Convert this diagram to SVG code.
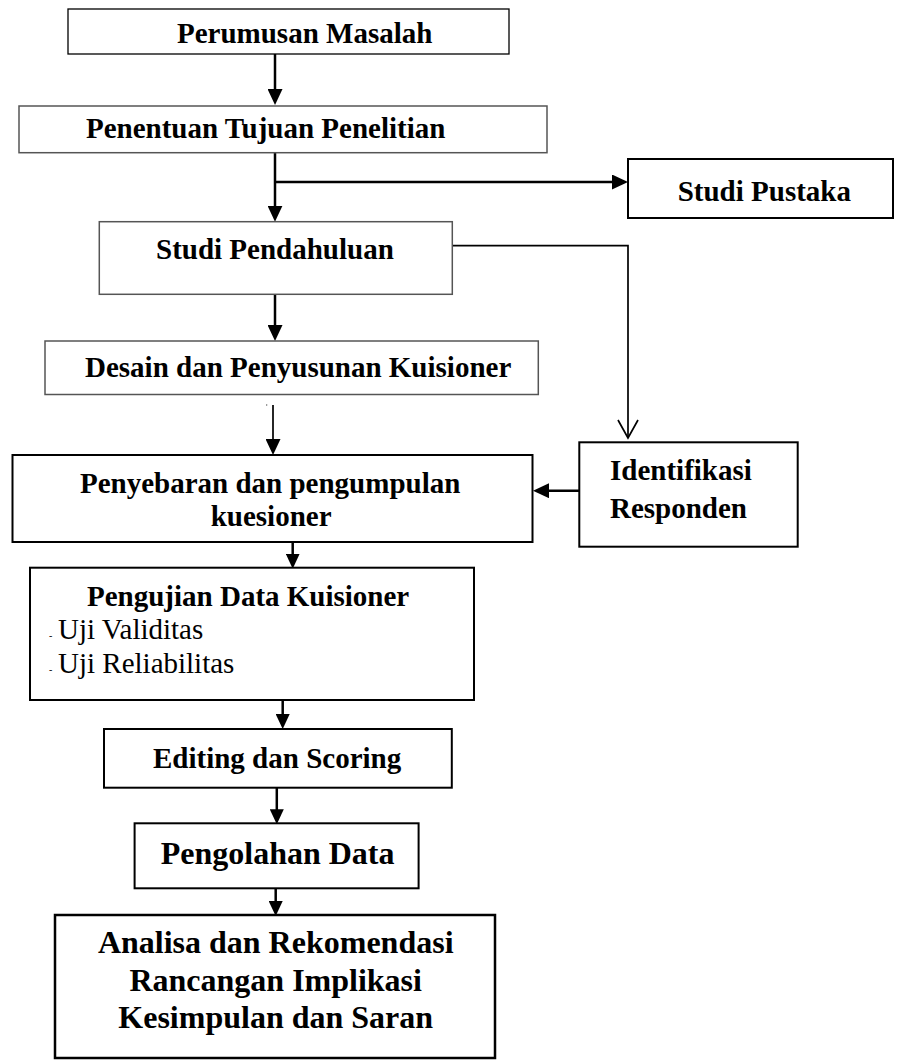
<svg xmlns="http://www.w3.org/2000/svg" width="899" height="1062" viewBox="0 0 899 1062">
<style>
  .box { fill: #ffffff; stroke: #000000; stroke-width: 2; }
  .gbox { fill: #ffffff; stroke: #555555; stroke-width: 1.5; }
  .t { font-family: "Liberation Serif", "Times New Roman", serif; font-weight: bold; font-size: 29px; fill: #000000; }
  .tl { font-family: "Liberation Serif", "Times New Roman", serif; font-weight: bold; font-size: 32px; fill: #000000; }
  .tr { font-family: "Liberation Serif", "Times New Roman", serif; font-weight: normal; font-size: 29px; fill: #000000; }
  .c { fill: none; stroke: #000000; stroke-width: 2.5; }
  .cs { fill: none; stroke: #000000; stroke-width: 1.7; }
</style>
<defs>
  <marker id="ah" markerUnits="userSpaceOnUse" markerWidth="16" markerHeight="15" refX="8" refY="7.5" orient="auto">
    <path d="M0,0 L16,7.5 L0,15 Z" fill="#000000"/>
  </marker>
  <marker id="ahs" markerUnits="userSpaceOnUse" markerWidth="15" markerHeight="14" refX="7" refY="7" orient="auto">
    <path d="M0,0 L15,7 L0,14 Z" fill="#000000"/>
  </marker>
  <marker id="av" markerUnits="userSpaceOnUse" markerWidth="22" markerHeight="24" refX="19" refY="11" orient="auto">
    <path d="M1,1 L19,11 L1,21" fill="none" stroke="#000000" stroke-width="1.7"/>
  </marker>
</defs>
<rect width="899" height="1062" fill="#ffffff"/>

<g id="connectors">
  <line class="c" x1="275" y1="54" x2="275" y2="97" marker-end="url(#ah)"/>
  <line class="c" x1="275" y1="152.7" x2="275" y2="213.7" marker-end="url(#ah)"/>
  <line class="c" x1="275" y1="182" x2="620" y2="182" marker-end="url(#ah)"/>
  <path class="cs" d="M452.3,245.7 H628 V438" marker-end="url(#av)"/>
  <line class="c" x1="275" y1="294.3" x2="275" y2="333" marker-end="url(#ah)"/>
  <line class="cs" x1="273" y1="405" x2="273" y2="447" marker-end="url(#ah)"/>
  <line class="c" x1="579.3" y1="490.7" x2="541" y2="490.7" marker-end="url(#ah)"/>
  <line class="c" x1="292.7" y1="542" x2="292.7" y2="560.7" marker-end="url(#ahs)"/>
  <line class="c" x1="282.7" y1="700" x2="282.7" y2="721" marker-end="url(#ahs)"/>
  <line class="c" x1="276.8" y1="787.7" x2="276.8" y2="816.3" marker-end="url(#ahs)"/>
  <line class="c" x1="275.7" y1="888.3" x2="275.7" y2="908" marker-end="url(#ahs)"/>
  <circle cx="266.7" cy="405" r="0.7" fill="#555555"/>
</g>

<g id="perumusan">
  <rect class="box" x="68" y="9" width="441" height="45" style="stroke-width:1.3"/>
  <text class="t" x="177" y="43">Perumusan Masalah</text>
</g>

<g id="penentuan">
  <rect class="gbox" x="19" y="106" width="528" height="46.7"/>
  <text class="t" x="86" y="137.7">Penentuan Tujuan Penelitian</text>
</g>

<g id="studi-pustaka">
  <rect class="box" x="628" y="159" width="265" height="59"/>
  <text class="t" x="677.7" y="201">Studi Pustaka</text>
</g>

<g id="studi-pendahuluan">
  <rect class="gbox" x="99.3" y="221.7" width="353" height="72.6"/>
  <text class="t" x="156" y="259.3">Studi Pendahuluan</text>
</g>

<g id="desain">
  <rect class="gbox" x="45" y="341" width="493.3" height="53.5"/>
  <text class="t" x="85" y="377">Desain dan Penyusunan Kuisioner</text>
</g>

<g id="penyebaran">
  <rect class="box" x="12.5" y="455" width="520" height="87"/>
  <text class="t" x="80" y="493">Penyebaran dan pengumpulan</text>
  <text class="t" x="210.7" y="526">kuesioner</text>
</g>

<g id="identifikasi">
  <rect class="box" x="579.3" y="442.3" width="218.4" height="104.4"/>
  <text class="t" x="610" y="480">Identifikasi</text>
  <text class="t" x="610" y="518">Responden</text>
</g>

<g id="pengujian">
  <rect class="box" x="30" y="567.7" width="444" height="132.3"/>
  <text class="t" x="87" y="606">Pengujian Data Kuisioner</text>
  <text class="tr" x="49" y="639"><tspan style="font-size:10px">-</tspan><tspan x="58">Uji Validitas</tspan></text>
  <text class="tr" x="49" y="672.7"><tspan style="font-size:10px">-</tspan><tspan x="58">Uji Reliabilitas</tspan></text>
</g>

<g id="editing">
  <rect class="box" x="104" y="729" width="347.8" height="58.7"/>
  <text class="t" x="153" y="768.3">Editing dan Scoring</text>
</g>

<g id="pengolahan">
  <rect class="box" x="134.6" y="823.3" width="284" height="65"/>
  <text class="tl" x="160.7" y="864">Pengolahan Data</text>
</g>

<g id="analisa">
  <rect class="box" x="55" y="915" width="440" height="143" style="stroke-width:2.5"/>
  <text class="tl" x="275.7" y="953.3" text-anchor="middle">Analisa dan Rekomendasi</text>
  <text class="tl" x="275.7" y="990.7" text-anchor="middle">Rancangan Implikasi</text>
  <text class="tl" x="275.7" y="1028.3" text-anchor="middle">Kesimpulan dan Saran</text>
</g>
</svg>
